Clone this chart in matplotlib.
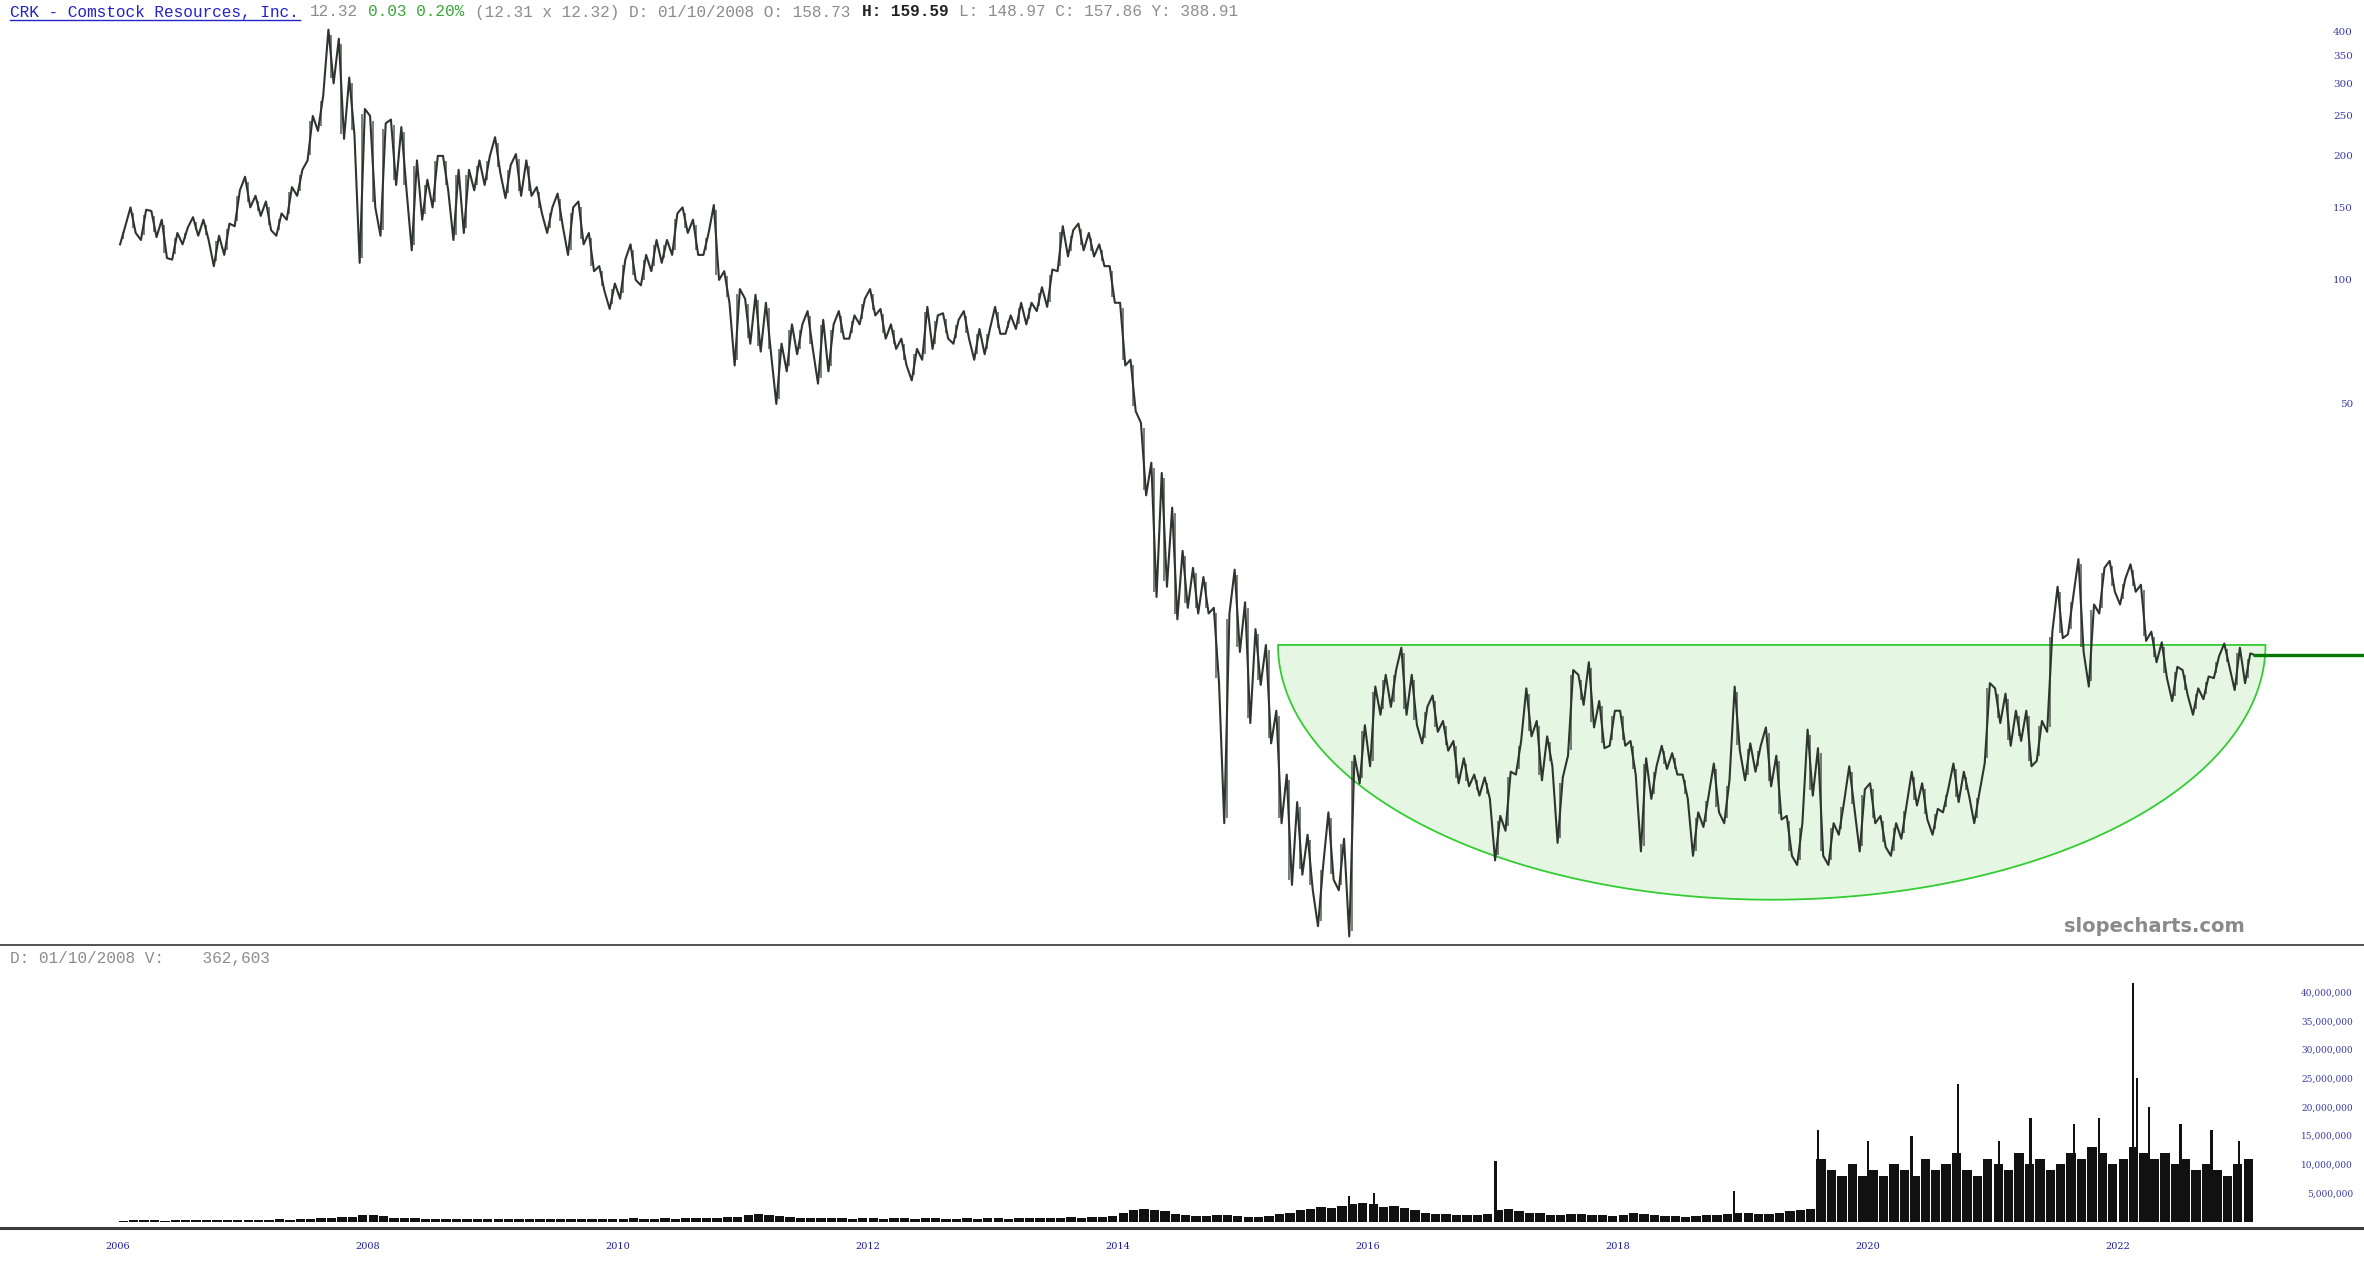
import numpy as np
import matplotlib
matplotlib.use('Agg')
import matplotlib.pyplot as plt
from matplotlib.lines import Line2D
from matplotlib.ticker import NullLocator, FixedLocator

# CRK - monthly high / low (month 0 = start of the "2006" label)
price_high = [135, 150, 148, 147, 140, 130, 134, 142, 140, 128, 137, 165, 178, 160, 155, 145, 168, 185,
              250, 280, 405, 385, 310, 260, 250, 240, 245, 235, 195, 175, 200, 200, 185, 185, 195, 200,
              222, 190, 202, 195, 168, 150, 162, 150, 155, 130, 108, 98, 112, 122, 115, 125, 125, 145,
              150, 140, 130, 152, 105, 95, 90, 92, 88, 70, 78, 78, 84, 80, 78, 84, 82, 90,
              95, 85, 78, 72, 68, 86, 82, 83, 80, 84, 76, 76, 86, 82, 88, 88, 96, 106,
              135, 132, 137, 130, 122, 108, 88, 64, 45, 36, 34, 28, 22, 20, 19, 16, 15.5, 19.8,
              16.5, 14.2, 13, 9, 6.3, 5.4, 4.5, 3.8, 5.1, 4.4, 7.0, 8.3, 10.3, 11, 11.3, 12.8,
              11, 9.2, 9.8, 8.5, 7.6, 6.9, 6.3, 6.2, 5.0, 6.4, 7.6, 10.2, 8.5, 7.8, 6.2, 11.3,
              11.0, 11.8, 9.5, 9.0, 9.0, 7.6, 6.9, 6.6, 7.4, 7.1, 6.3, 5.1, 5.6, 6.7, 6.1, 10.3,
              7.5, 7.4, 8.2, 7.0, 5.0, 4.8, 8.1, 7.3, 4.8, 5.4, 6.6, 5.8, 6.0, 5.0, 4.8, 5.3,
              6.4, 6.0, 5.2, 5.8, 6.7, 6.4, 5.7, 10.5, 10.2, 9.9, 9.0, 9.0, 8.5, 14.0, 18, 17,
              21, 16.3, 20, 20.8, 18.8, 20.4, 18.2, 14, 13.2, 11.5, 11.3, 10.2, 10.9, 12.2, 13.1, 12.8,
              12.4]
price_low = [122, 130, 125, 127, 113, 112, 122, 128, 125, 108, 115, 135, 150, 143, 132, 128, 140, 160,
             195, 230, 300, 220, 225, 110, 150, 128, 170, 165, 118, 140, 150, 165, 125, 130, 165, 170,
             182, 158, 160, 160, 145, 130, 135, 115, 122, 105, 94, 85, 90, 100, 97, 105, 110, 115,
             130, 115, 115, 100, 88, 62, 70, 67, 66, 50, 60, 66, 68, 56, 60, 72, 72, 78,
             82, 72, 68, 62, 57, 64, 68, 72, 70, 72, 64, 66, 74, 74, 76, 78, 84, 86,
             105, 114, 118, 114, 108, 88, 62, 48, 30, 17, 18, 15, 16, 15.5, 15.5, 10.5, 4.8, 12.5,
             8.4, 10.4, 7.5, 4.8, 3.4, 3.6, 3.3, 2.7, 3.5, 3.3, 2.55, 6.0, 6.6, 8.8, 9.2, 8.8,
             8.3, 7.5, 8.0, 7.2, 6.0, 5.9, 5.6, 5.5, 3.9, 4.6, 6.3, 7.8, 6.1, 6.6, 4.3, 7.0,
             9.3, 8.2, 7.3, 7.4, 7.4, 6.3, 4.1, 5.5, 6.5, 6.3, 5.5, 4.0, 4.7, 5.1, 4.8, 7.2,
             6.1, 6.4, 5.9, 4.9, 4.0, 3.8, 5.6, 4.0, 3.8, 4.5, 5.2, 4.1, 4.8, 4.2, 4.0, 4.4,
             5.3, 4.9, 4.5, 5.1, 5.4, 5.6, 4.8, 6.7, 8.4, 7.4, 7.6, 6.6, 6.8, 8.0, 13.5, 13.8,
             12.5, 10.3, 15.5, 17.5, 16.3, 17.5, 13.3, 11.8, 10.8, 9.5, 9.8, 8.8, 9.6, 10.8, 11.5, 10.1,
             10.5]
last_price = 12.32

# typical daily volume per month, in millions
volume_m = [0.2, 0.25, 0.3, 0.25, 0.2, 0.3, 0.25, 0.3, 0.25, 0.3, 0.35, 0.3, 0.3, 0.35, 0.3, 0.4, 0.35, 0.4,
            0.5, 0.6, 0.7, 0.8, 0.9, 1.2, 1.1, 1.0,
            0.7, 0.6, 0.6, 0.5, 0.5, 0.5, 0.4, 0.5, 0.5, 0.4,
            0.4, 0.4, 0.5, 0.4, 0.4, 0.4, 0.5, 0.4, 0.5, 0.5, 0.4, 0.5, 0.5, 0.6, 0.5, 0.5, 0.6, 0.5,
            0.6, 0.7, 0.6, 0.7, 0.8, 0.8,
            1.1, 1.3, 1.2, 1.0, 0.9,
            0.6, 0.6, 0.7, 0.6, 0.6, 0.5, 0.6, 0.6, 0.5, 0.6, 0.6, 0.5, 0.6, 0.6, 0.5, 0.5, 0.6, 0.5,
            0.6, 0.6, 0.5, 0.6, 0.6, 0.6, 0.7, 0.7, 0.8, 0.7, 0.8, 0.9, 1.0,
            1.6, 2.0, 2.2, 2.0, 1.8,
            1.4, 1.2, 1.0, 1.0, 1.1, 1.2,
            1.0, 0.9, 0.9, 1.0, 1.3, 1.6,
            2.0, 2.2, 2.5, 2.4, 2.8, 3.0,
            3.2, 3.0, 2.6, 2.8, 2.4, 2.0,
            1.6, 1.4, 1.3, 1.2, 1.2, 1.1, 1.3,
            2.0, 2.2, 1.8, 1.6, 1.5,
            1.2, 1.1, 1.4, 1.3, 1.2, 1.1, 1.0, 1.2, 1.5, 1.4, 1.2, 1.0, 1.0, 0.9, 1.0, 1.1,
            1.2, 1.3, 1.5, 1.6, 1.4, 1.3, 1.5, 1.8, 2.0, 2.2,
            11, 9, 8, 10, 8, 9, 8, 10, 9, 8, 11, 9, 10, 12, 9, 8, 11, 10, 9, 12, 10,
            11, 9, 10, 12, 11, 13, 12, 10, 11, 13, 12, 11, 12, 10, 11, 9, 10, 9, 8, 10, 11]
# single-day volume spikes (chart year, millions)
spike_x = [2015.85, 2016.05, 2017.02, 2018.93, 2019.6, 2020.0, 2020.35, 2020.72, 2021.05, 2021.3,
           2021.65, 2021.85, 2022.12, 2022.15, 2022.25, 2022.5, 2022.75, 2022.97]
spike_v = [4.4, 5.0, 10.6, 5.3, 16, 14, 15, 24, 14, 18, 17, 18, 41.6, 25, 20, 17, 16, 14]

price_ticks = [50, 100, 150, 200, 250, 300, 350, 400]
volume_ticks = [5, 10, 15, 20, 25, 30, 35, 40]
year_ticks = [2006, 2008, 2010, 2012, 2014, 2016, 2018, 2020, 2022]

# rounded-bottom pattern (in chart coordinates)
bowl_left, bowl_right = 2015.28, 2023.18
bowl_top, bowl_bottom = 13.0, 3.13

W, H = 2364, 1269
x_left, x_right = 2005.056, 2023.968
blue_txt = '#3a3aa6'
bar_col = '#2e352e'

fig = plt.figure(figsize=(W / 100, H / 100), dpi=100)

# ---- price panel
ax = fig.add_axes([0, 1 - 945 / H, 1, 945 / H])
ax.set_yscale('log')
ax.set_xlim(x_left, x_right)
ax.set_ylim(2.43, 478)
for s in ax.spines.values():
    s.set_visible(False)

# bowl (half ellipse in screen space -> log space vertically)
t = np.linspace(0, np.pi, 200)
xc = (bowl_left + bowl_right) / 2
half_w = (bowl_right - bowl_left) / 2
ly = np.log(bowl_top) - (np.log(bowl_top) - np.log(bowl_bottom)) * np.sin(t)
ax.fill(xc - half_w * np.cos(t), np.exp(ly), facecolor='#e5f7e3', edgecolor='#33cc33',
        linewidth=1.3, zorder=1)

# price path: zig-zag through each month's high and low, plus the month's range bar
hi = np.array(price_high, dtype=float)
lo = np.array(price_low, dtype=float)
mid = (hi + lo) / 2
xs, ys = [], []
for i in range(len(hi)):
    nxt = mid[i + 1] if i + 1 < len(hi) else last_price
    a, b = (lo[i], hi[i]) if nxt >= mid[i] else (hi[i], lo[i])
    xs += [2006 + (i + 0.2) / 12, 2006 + (i + 0.7) / 12]
    ys += [a, b]
xs.append(2006 + len(hi) / 12)
ys.append(last_price)
ax.plot(xs, ys, color=bar_col, linewidth=1.5, zorder=3)
ax.vlines(2006 + (np.arange(len(hi)) + 0.45) / 12, lo * 1.03, hi / 1.03, color=bar_col,
          linewidth=1.1, alpha=0.8, zorder=3)

# last-price line
ax.plot([xs[-1], x_right], [last_price, last_price], color='#007a00', linewidth=2.4, zorder=4,
        solid_capstyle='butt')

ax.yaxis.tick_right()
ax.yaxis.set_major_locator(FixedLocator(price_ticks))
ax.yaxis.set_minor_locator(NullLocator())
ax.set_yticklabels([str(p) for p in price_ticks])
ax.tick_params(axis='y', which='both', length=0, pad=-8, labelsize=7.5, labelcolor=blue_txt)
for lab in ax.get_yticklabels():
    lab.set_horizontalalignment('right')
    lab.set_family('DejaVu Serif')
ax.set_xticks([])

ax.text(2245 / W, 1 - 927 / 945, 'slopecharts.com', transform=ax.transAxes, ha='right', va='center',
        fontsize=14, fontweight='bold', color='#8a8a8a', family='DejaVu Sans')

# ---- volume panel
vmin, vmax = -1.1, 48.2
ax2 = fig.add_axes([0, 1 - 1228 / H, 1, (1228 - 945) / H])
ax2.set_xlim(x_left, x_right)
ax2.set_ylim(vmin, vmax)
for s in ax2.spines.values():
    s.set_visible(False)
mx = 2006 + (np.arange(len(volume_m)) + 0.5) / 12
ax2.bar(mx, volume_m, width=0.9 / 12, color='#111111', linewidth=0)
ax2.bar(spike_x, spike_v, width=0.02, color='#111111', linewidth=0)

ax2.yaxis.tick_right()
ax2.set_yticks(volume_ticks)
ax2.set_yticklabels(['{:,}'.format(v * 1000000) for v in volume_ticks])
ax2.tick_params(axis='y', length=0, pad=-8, labelsize=6.5, labelcolor=blue_txt)
for lab in ax2.get_yticklabels():
    lab.set_horizontalalignment('right')
    lab.set_family('DejaVu Serif')
ax2.set_xticks(year_ticks)
ax2.set_xticklabels([str(y) for y in year_ticks])
ax2.tick_params(axis='x', length=0, pad=10, labelsize=7, labelcolor='#1c1c9a')
for lab in ax2.get_xticklabels():
    lab.set_family('DejaVu Serif')

# panel separators
fig.add_artist(Line2D([0, 1], [1 - 945 / H] * 2, color='#333333', linewidth=1.2))
fig.add_artist(Line2D([0, 1], [1 - 1228 / H] * 2, color='#3c3c3c', linewidth=2.2))

# ---- header lines (monospace, positioned by character)
cw = 9.68
header = [("CRK - Comstock Resources, Inc.", '#2323c8', 'normal'),
          (" 12.32 ", '#8c8c8c', 'normal'),
          ("0.03 0.20%", '#3aa63a', 'normal'),
          (" (12.31 x 12.32) D: 01/10/2008 O: 158.73 ", '#8c8c8c', 'normal'),
          ("H: 159.59", '#222222', 'bold'),
          (" L: 148.97 C: 157.86 Y: 388.91", '#8c8c8c', 'normal')]
pos = 0
for txt, col, wt in header:
    lead = len(txt) - len(txt.lstrip())
    fig.text((10 + (pos + lead) * cw) / W, 1 - 12 / H, txt.strip(), ha='left', va='center',
             family='Liberation Mono', fontsize=11.6, color=col, fontweight=wt)
    pos += len(txt)
fig.add_artist(Line2D([10 / W, (10 + 30 * cw) / W], [1 - 20 / H] * 2, color='#2323c8', linewidth=1))

fig.text(10 / W, 1 - 958 / H, "D: 01/10/2008 V:    362,603", ha='left', va='center',
         family='Liberation Mono', fontsize=11.6, color='#8c8c8c')

fig.savefig('out.png', dpi=100)
